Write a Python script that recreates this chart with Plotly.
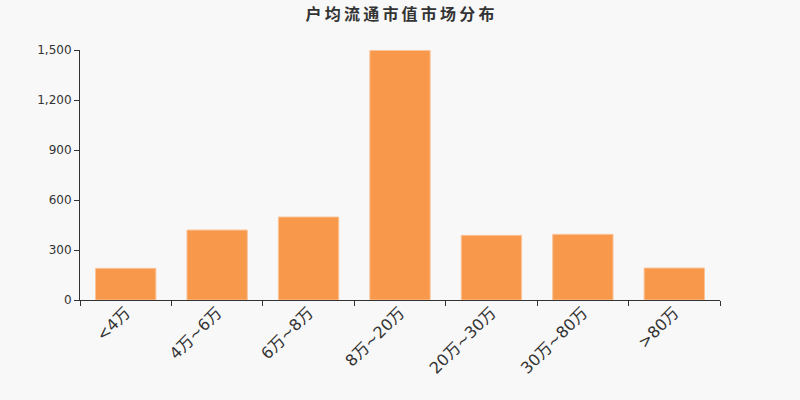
import plotly.graph_objects as go

# 户均流通市值分布
categories = ["<4万", "4万~6万", "6万~8万", "8万~20万", "20万~30万", "30万~80万", ">80万"]
counts = [190, 420, 498, 1497, 388, 394, 192]
y_ticks = [0, 300, 600, 900, 1200, 1500]

title_text = "\u2009".join("户均流通市值市场分布")

fig = go.Figure()
fig.add_trace(go.Bar(
    x=categories,
    y=counts,
    marker=dict(color="#f7984a", line=dict(color="#fbc49a", width=1)),
))

fig.update_layout(
    width=800,
    height=400,
    paper_bgcolor="#f8f8f8",
    plot_bgcolor="#f8f8f8",
    margin=dict(l=80, r=80, t=50, b=100),
    bargap=0.34,
    showlegend=False,
    title=dict(
        text="<b>" + title_text + "</b>",
        x=0.5,
        y=0.965,
        xanchor="center",
        yanchor="middle",
        font=dict(family="Noto Sans CJK SC", size=16, color="#333333"),
    ),
    font=dict(family="DejaVu Sans", color="#333333"),
)

fig.update_xaxes(
    showline=True,
    linecolor="#333333",
    linewidth=1,
    ticks="outside",
    tickson="boundaries",
    ticklen=5,
    tickcolor="#333333",
    tickangle=-45,
    ticklabelstandoff=-4,
    tickfont=dict(family="DejaVu Sans, Noto Sans CJK SC", size=16, color="#333333"),
    showgrid=False,
)

fig.update_yaxes(
    range=[0, 1500],
    tickvals=y_ticks,
    tickformat=",",
    showline=True,
    linecolor="#333333",
    linewidth=1,
    ticks="outside",
    ticklen=5,
    tickcolor="#333333",
    tickfont=dict(family="DejaVu Sans", size=12, color="#333333"),
    showgrid=False,
    zeroline=False,
)

fig.write_html(
    "out.html",
    config={"displayModeBar": False},
    post_script="document.body.style.margin='0';",
)
